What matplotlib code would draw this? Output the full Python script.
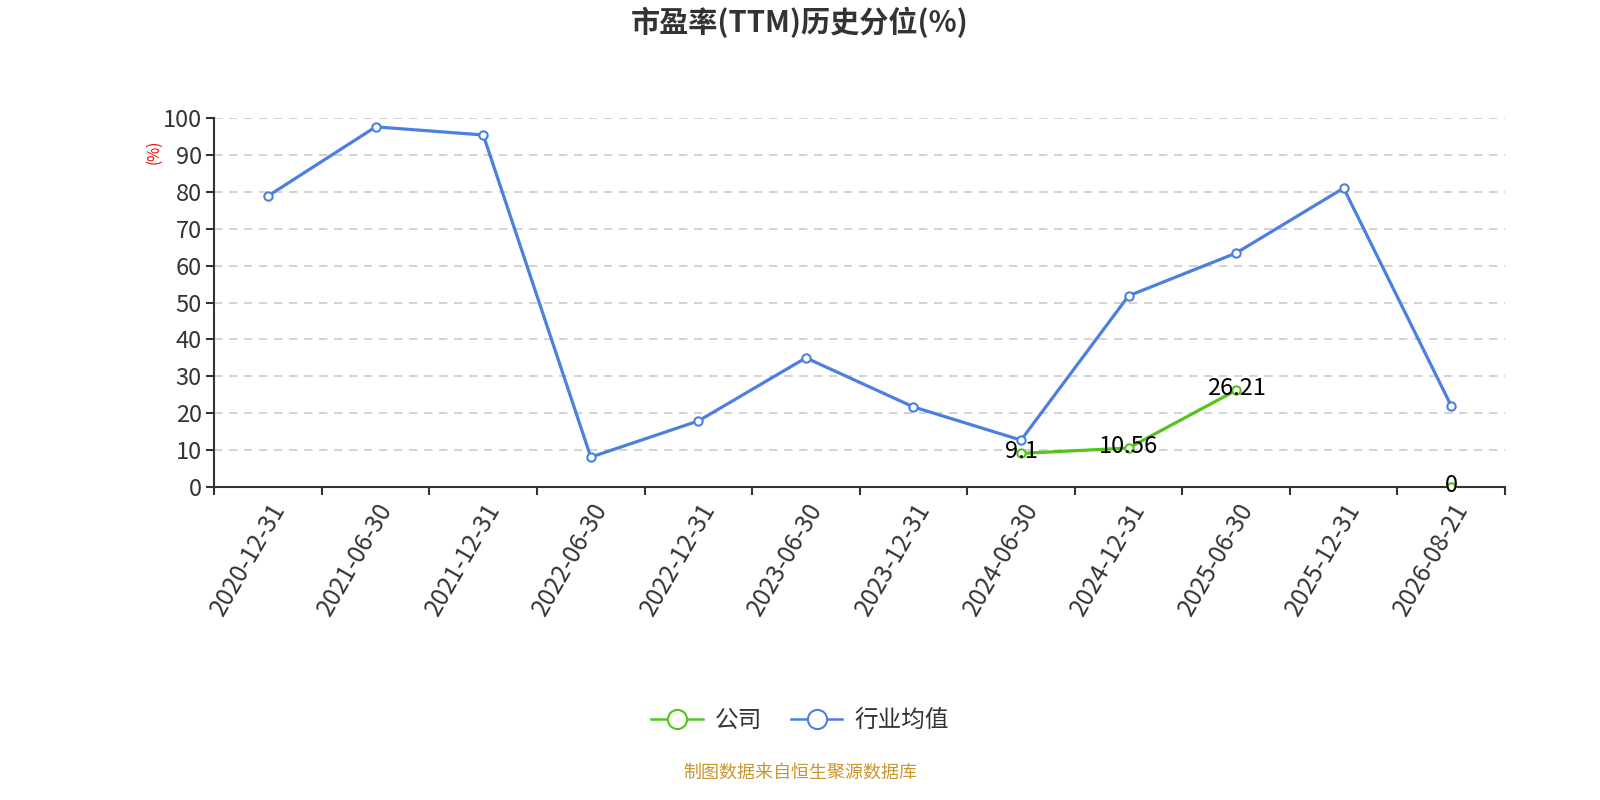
import matplotlib
matplotlib.use("Agg")
import matplotlib.pyplot as plt
import numpy as np

plt.rcParams['font.family'] = ['Noto Sans CJK SC', 'DejaVu Sans']

dates = ["2020-12-31", "2021-06-30", "2021-12-31", "2022-06-30", "2022-12-31",
         "2023-06-30", "2023-12-31", "2024-06-30", "2024-12-31", "2025-06-30",
         "2025-12-31", "2026-08-21"]
company = [np.nan, np.nan, np.nan, np.nan, np.nan, np.nan, np.nan,
           9.1, 10.56, 26.21, np.nan, 0]
industry = [78.9, 97.6, 95.4, 8.1, 17.9, 35.0, 21.7, 12.7, 51.8, 63.4, 81.0, 22.0]

blue = "#4b80e0"
green = "#52c41a"

fig = plt.figure(figsize=(16, 8), dpi=100)
ax = fig.add_axes([0.134, 0.39125, 0.8066, 0.46125])

x = np.arange(len(dates))
ax.plot(x, company, color=green, lw=2.3, marker='o', ms=6, mfc='white',
        mec=green, mew=1.5, zorder=3, label="公司")
ax.plot(x, industry, color=blue, lw=2.3, marker='o', ms=6, mfc='white',
        mec=blue, mew=1.5, zorder=4, label="行业均值")

for xi, v in zip(x, company):
    if not np.isnan(v):
        ax.text(xi, v + 0.5, "{:g}".format(v), ha='center', va='center',
                fontsize=17, color='black', zorder=5)

ax.set_xlim(-0.5, len(dates) - 0.5)
ax.set_ylim(0, 100)
ax.set_yticks(range(0, 101, 10))
ax.set_xticks(np.arange(-0.5, len(dates), 1.0))
ax.set_xticklabels([])
ax.set_xticks(x, minor=True)
ax.set_xticklabels(dates, minor=True, rotation=60, ha='right',
                   rotation_mode='anchor', fontsize=17.5, color='#333333')
ax.tick_params(axis='x', which='minor', length=0, pad=8)
ax.tick_params(axis='x', which='major', length=6, width=1.5, color='#333333')
ax.tick_params(axis='y', length=6, width=1.5, color='#333333',
               labelsize=17, labelcolor='#333333', pad=3)

ax.grid(axis='y', ls=(0, (5, 4)), color='#cccccc', lw=1.2)
ax.set_axisbelow(True)
for s in ['top', 'right']:
    ax.spines[s].set_visible(False)
for s in ['left', 'bottom']:
    ax.spines[s].set_color('#333333')
    ax.spines[s].set_linewidth(1.5)

fig.text(0.096, 0.81, "(%)", rotation=90, color='red', fontsize=11,
         ha='center', va='center')

fig.text(0.5, 0.972, "市盈率(TTM)历史分位(%)", ha='center', va='center',
         fontsize=21, fontweight='bold', color='#333333')

leg = fig.legend(loc='center', bbox_to_anchor=(0.5, 0.099), ncol=2,
                 frameon=False, fontsize=17, handlelength=2.2,
                 markerscale=2.3, columnspacing=1.2, handletextpad=0.5)
for t in leg.get_texts():
    t.set_color('#333333')
for h in leg.legend_handles:
    h.set_linewidth(1.8)

fig.text(0.5, 0.034, "制图数据来自恒生聚源数据库", ha='center', va='center',
         fontsize=13, color='#c9952c')

fig.savefig("out.png", dpi=100)
